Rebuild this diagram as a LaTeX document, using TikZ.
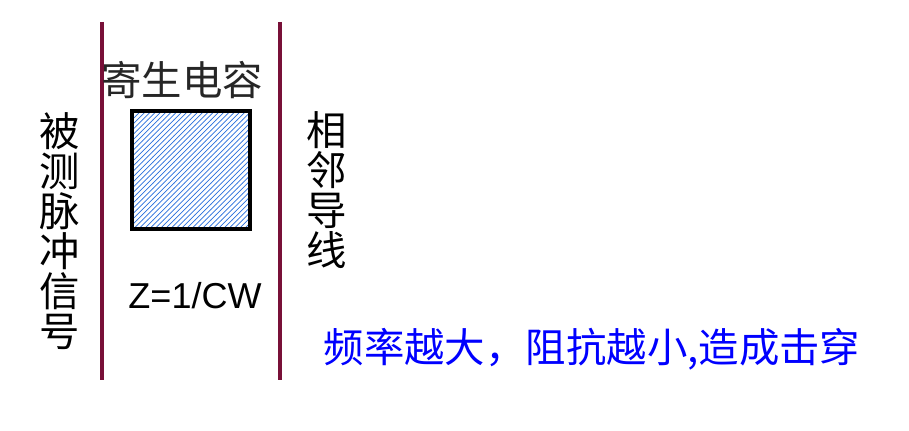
\documentclass[tikz,border=0pt]{standalone}
\usepackage{fontspec}
\setmainfont{Liberation Sans}
\newfontfamily\cjk{Noto Sans CJK SC}
\usetikzlibrary{patterns}
\definecolor{wirered}{RGB}{120,16,56}
\definecolor{hatchblue}{RGB}{40,110,220}
\tikzset{
  wire/.style={draw=wirered, line width=2pt},
  cjktext/.style={font=\cjk\fontsize{23}{22.8}\selectfont, inner sep=0pt, align=center},
}
\begin{document}
\begin{tikzpicture}[x=0.02cm,y=-0.02cm]
            \useasboundingbox (0,0) rectangle (909,431);
            \coordinate (Ltop) at (102,22);
            \coordinate (Lbot) at (102,380);
            \coordinate (Rtop) at (280,22);
            \coordinate (Rbot) at (280,380);
            \draw [wire] (Ltop) -- (Lbot);
            \draw [wire] (Rtop) -- (Rbot);
            \node (cap) [draw, line width=2pt, pattern=north east lines, pattern color=hatchblue, minimum size=118*0.02cm, inner sep=0pt] at (191,170) {};
            \node (title) [cjktext, text=black!85] at (182,80) {寄生电容};
            \node (signal) [cjktext] at (60,231) {被\\测\\脉\\冲\\信\\号};
            \node (neighbor) [cjktext] at (327,190) {相\\邻\\导\\线};
            \node (formula) [font=\fontsize{20.5}{24}\selectfont, inner sep=0pt] at (195,296) {Z=1/CW};
            \node (note) [cjktext, text=blue] at (592,349) {频率越大，阻抗越小,造成击穿};
        \end{tikzpicture}
\end{document}
